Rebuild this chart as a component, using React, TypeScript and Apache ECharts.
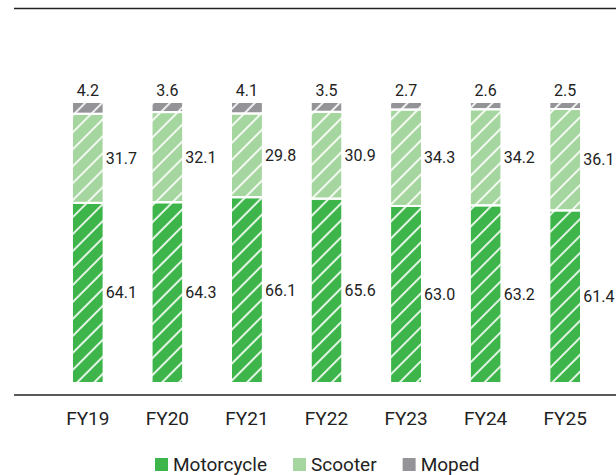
import React, { useEffect, useRef } from "react";
import * as echarts from "echarts";

const categories = ["FY19", "FY20", "FY21", "FY22", "FY23", "FY24", "FY25"];
const motorcycle = [64.1, 64.3, 66.1, 65.6, 63.0, 63.2, 61.4];
const scooter = [31.7, 32.1, 29.8, 30.9, 34.3, 34.2, 36.1];
const moped = [4.2, 3.6, 4.1, 3.5, 2.7, 2.6, 2.5];

const FONT = "Roboto, 'Liberation Sans', sans-serif";
const decal = {
  symbol: "rect",
  symbolSize: 1,
  dashArrayX: [1, 0],
  dashArrayY: [1.3, 10],
  rotation: -Math.PI / 4,
  color: "rgba(255,255,255,0.85)",
};

export default function App() {
  const ref = useRef<HTMLDivElement>(null);
  useEffect(() => {
    const chart = echarts.init(ref.current!, null, { renderer: "svg" });
    const fmt = (p: any) => Number(p.value).toFixed(1);
    const sideLabel = {
      show: true,
      position: "right" as const,
      distance: 2,
      color: "#222",
      fontSize: 16,
      fontFamily: FONT,
      formatter: fmt,
    };
    chart.setOption({
      animation: false,
      backgroundColor: "#fff",
      grid: { left: 48, width: 557, top: 102, bottom: 92, containLabel: false },
      xAxis: {
        type: "category",
        data: categories,
        axisLine: { show: false },
        axisTick: { show: false },
        axisLabel: {
          color: "#222",
          fontSize: 19,
          fontFamily: FONT,
          margin: 26,
        },
      },
      yAxis: {
        type: "value",
        min: 0,
        max: 100,
        show: false,
        splitLine: { show: false },
      },
      legend: {
        top: 455,
        left: 153,
        padding: 0,
        itemWidth: 15,
        itemHeight: 15,
        itemGap: 24,
        icon: "rect",
        itemStyle: { decal: "none" },
        textStyle: { color: "#222", fontSize: 19, fontFamily: FONT, padding: [0, 0, 0, -1] },
        data: ["Motorcycle", "Scooter", "Moped"],
      },
      graphic: [
        { type: "line", shape: { x1: 14, y1: 8.5, x2: 616, y2: 8.5 }, style: { stroke: "#222", lineWidth: 1.4 } },
        { type: "line", shape: { x1: 14, y1: 395, x2: 616, y2: 395 }, style: { stroke: "#222", lineWidth: 1.4 } },
      ],
      series: [
        {
          name: "Motorcycle",
          type: "bar",
          stack: "s",
          barWidth: 32,
          data: motorcycle,
          itemStyle: { color: "#3db54a", borderColor: "#fff", borderWidth: 1, decal },
          label: sideLabel,
        },
        {
          name: "Scooter",
          type: "bar",
          stack: "s",
          barWidth: 32,
          data: scooter,
          itemStyle: { color: "#a6d69f", borderColor: "#fff", borderWidth: 1, decal },
          label: sideLabel,
        },
        {
          name: "Moped",
          type: "bar",
          stack: "s",
          barWidth: 32,
          data: moped,
          itemStyle: { color: "#939398", borderColor: "#fff", borderWidth: 1, decal },
          label: { ...sideLabel, position: "top", distance: 4 },
        },
      ],
    });
    return () => chart.dispose();
  }, []);
  return (
    <div
      ref={ref}
      style={{ position: "fixed", left: 0, top: 0, width: 616, height: 475 }}
    />
  );
}
